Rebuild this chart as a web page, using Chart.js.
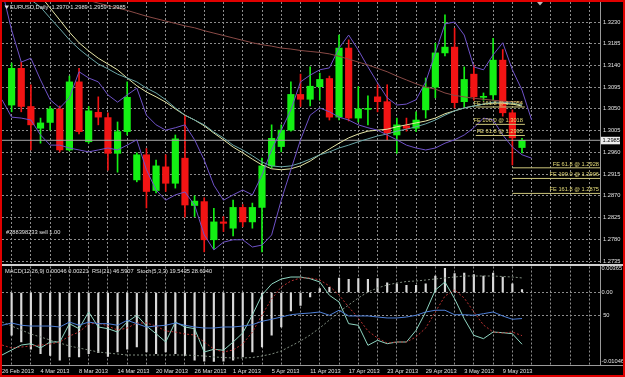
<!DOCTYPE html>
<html>
<head>
<meta charset="utf-8">
<title>EURUSD Daily</title>
<script src="https://cdn.jsdelivr.net/npm/chart.js@4/dist/chart.umd.min.js"></script>
<style>
  html, body { margin:0; padding:0; background:#000; }
  #frame { position:relative; width:625px; height:377px; box-sizing:border-box; border:2px solid #e00000; background:#000; overflow:hidden; }
  #mainBox { position:absolute; left:0; top:0; width:621px; height:261px; }
  #subBox { position:absolute; left:0; top:261px; width:621px; height:112px; }
  canvas { display:block; }
</style>
</head>
<body>
<div id="frame">
  <div id="mainBox"><canvas id="mainChart" width="621" height="261"></canvas></div>
  <div id="subBox"><canvas id="subChart" width="621" height="112"></canvas></div>
</div>
<script>
// ---------------- DATA ----------------
const symbol = 'EURUSD,Daily';
const dates = ['26 Feb 2013','27 Feb 2013','28 Feb 2013','1 Mar 2013','4 Mar 2013','5 Mar 2013','6 Mar 2013','7 Mar 2013','8 Mar 2013','11 Mar 2013','12 Mar 2013','13 Mar 2013','14 Mar 2013','15 Mar 2013','18 Mar 2013','19 Mar 2013','20 Mar 2013','21 Mar 2013','22 Mar 2013','25 Mar 2013','26 Mar 2013','27 Mar 2013','28 Mar 2013','29 Mar 2013','1 Apr 2013','2 Apr 2013','3 Apr 2013','4 Apr 2013','5 Apr 2013','8 Apr 2013','9 Apr 2013','10 Apr 2013','11 Apr 2013','12 Apr 2013','15 Apr 2013','16 Apr 2013','17 Apr 2013','18 Apr 2013','19 Apr 2013','22 Apr 2013','23 Apr 2013','24 Apr 2013','25 Apr 2013','26 Apr 2013','29 Apr 2013','30 Apr 2013','1 May 2013','2 May 2013','3 May 2013','6 May 2013','7 May 2013','8 May 2013','9 May 2013','10 May 2013','13 May 2013'];

const open  = [null,1.3058,1.3134,1.3055,1.3010,1.3022,1.3050,1.2965,1.3106,1.2982,1.3043,1.3032,1.2958,1.3003,1.2903,1.2955,1.2881,1.2930,1.2896,1.2948,1.2850,1.2858,1.2779,1.2816,1.2803,1.2846,1.2816,1.2846,1.2932,1.2972,1.3006,1.3080,1.3070,1.3096,1.3113,1.3033,1.3176,1.3031,1.3049,1.3075,1.3065,1.2996,1.3015,1.3010,1.3048,1.3095,1.3166,1.3178,1.3065,1.3122,1.3074,1.3079,1.3151,1.3042,1.2970];
const high  = [null,1.3145,1.3147,1.3100,1.3031,1.3055,1.3056,1.3118,1.3134,1.3055,1.3075,1.3042,1.3023,1.3106,1.2959,1.2968,1.2944,1.2955,1.2996,1.3037,1.2870,1.2866,1.2844,1.2827,1.2861,1.2852,1.2855,1.2948,1.3017,1.3017,1.3106,1.3122,1.3137,1.3124,1.3118,1.3203,1.3193,1.3096,1.3077,1.3100,1.3100,1.3031,1.3031,1.3044,1.3114,1.3186,1.3245,1.3217,1.3137,1.3141,1.3083,1.3196,1.3173,1.3048,1.2989];
const low   = [null,1.3044,1.3044,1.2965,1.2979,1.3006,1.2961,1.2963,1.2998,1.2979,1.3017,1.2923,1.2919,1.2996,1.2899,1.2845,1.2876,1.2879,1.2886,1.2826,1.2827,1.2754,1.2760,1.2796,1.2787,1.2806,1.2803,1.2754,1.2928,1.2961,1.3004,1.3055,1.3056,1.3068,1.3027,1.3027,1.3025,1.3023,1.3017,1.3044,1.2986,1.2958,1.3004,1.3003,1.3031,1.3073,1.3160,1.3052,1.3054,1.3068,1.3068,1.3068,1.3035,1.2934,1.2959];
const close = [null,1.3134,1.3055,1.3017,1.3021,1.3050,1.2965,1.3106,1.3003,1.3046,1.3033,1.2958,1.3003,1.3074,1.2955,1.2879,1.2932,1.2896,1.2988,1.2851,1.2859,1.2779,1.2816,1.2813,1.2846,1.2816,1.2846,1.2932,1.2989,1.3006,1.3080,1.3070,1.3097,1.3111,1.3033,1.3176,1.3031,1.3050,1.3050,1.3065,1.3000,1.3017,1.3010,1.3027,1.3095,1.3166,1.3178,1.3063,1.3111,1.3075,1.3075,1.3151,1.3042,1.2990,1.2985];

const maYellow = [1.3375,1.3350,1.3325,1.3303,1.3284,1.3259,1.3234,1.3209,1.3187,1.3170,1.3155,1.3143,1.3131,1.3114,1.3098,1.3085,1.3075,1.3064,1.3050,1.3037,1.3027,1.3015,1.3000,1.2986,1.2971,1.2959,1.2946,1.2934,1.2926,1.2924,1.2926,1.2932,1.2942,1.2955,1.2967,1.2979,1.2990,1.2998,1.3004,1.3006,1.3008,1.3013,1.3017,1.3021,1.3025,1.3031,1.3040,1.3046,1.3052,1.3056,1.3060,1.3062,1.3062,1.3060,1.3056];
const maTeal   = [1.3317,1.3305,1.3290,1.3276,1.3261,1.3238,1.3216,1.3193,1.3174,1.3158,1.3143,1.3133,1.3122,1.3114,1.3106,1.3093,1.3083,1.3069,1.3052,1.3037,1.3027,1.3017,1.3002,1.2990,1.2975,1.2965,1.2953,1.2940,1.2932,1.2930,1.2932,1.2938,1.2946,1.2955,1.2961,1.2969,1.2975,1.2982,1.2988,1.2994,1.2998,1.3004,1.3008,1.3013,1.3019,1.3027,1.3037,1.3046,1.3052,1.3056,1.3060,1.3064,1.3064,1.3062,1.3058];
const maBrown  = [1.3325,1.3319,1.3314,1.3309,1.3303,1.3297,1.3292,1.3286,1.3281,1.3275,1.3269,1.3264,1.3259,1.3254,1.3248,1.3242,1.3237,1.3232,1.3227,1.3222,1.3218,1.3212,1.3207,1.3202,1.3197,1.3192,1.3187,1.3183,1.3180,1.3176,1.3174,1.3171,1.3169,1.3167,1.3164,1.3159,1.3153,1.3147,1.3141,1.3134,1.3127,1.3118,1.3110,1.3102,1.3095,1.3091,1.3083,1.3078,1.3075,1.3072,1.3070,1.3068,1.3066,1.3065,1.3064];
const bandUpper = [1.3296,1.3213,1.3147,1.3155,1.3110,1.3069,1.3052,1.3073,1.3127,1.3114,1.3106,1.3079,1.3064,1.3079,1.3093,1.3037,1.3017,1.3006,1.3011,1.3017,1.2986,1.2944,1.2892,1.2861,1.2872,1.2882,1.2872,1.2913,1.2965,1.3006,1.3048,1.3106,1.3120,1.3131,1.3135,1.3176,1.3203,1.3172,1.3137,1.3104,1.3073,1.3058,1.3060,1.3069,1.3106,1.3166,1.3226,1.3230,1.3203,1.3137,1.3131,1.3162,1.3187,1.3131,1.3089,1.3027];
const bandLower = [1.3069,1.3033,1.3031,1.3027,1.2996,1.2975,1.2975,1.2969,1.2965,1.2961,1.2965,1.2969,1.2965,1.2975,1.2986,1.2924,1.2882,1.2861,1.2872,1.2878,1.2851,1.2789,1.2758,1.2774,1.2779,1.2779,1.2764,1.2768,1.2789,1.2861,1.2924,1.2986,1.3037,1.3052,1.3044,1.3033,1.3027,1.3017,1.3011,1.3006,1.2996,1.2986,1.2975,1.2969,1.2965,1.2969,1.2979,1.2986,1.2996,1.3011,1.3031,1.3027,1.2996,1.2971,1.2955,1.2948];

const macdMain   = [null,-0.00648,-0.0075,-0.0086,-0.00927,-0.00952,-0.01027,-0.00977,-0.00977,-0.00927,-0.00912,-0.00967,-0.00902,-0.0086,-0.00826,-0.00902,-0.00927,-0.00902,-0.00927,-0.00952,-0.01027,-0.0104,-0.01046,-0.01042,-0.01027,-0.00977,-0.00902,-0.00826,-0.00648,-0.00523,-0.0028,-0.00194,-0.00068,0.00058,0.00079,0.0022,0.002,0.00209,0.002,0.00209,0.00148,0.00133,0.00109,0.00109,0.00133,0.0025,0.00365,0.00288,0.00295,0.0027,0.0025,0.00295,0.00235,0.00133,0.00046];
const macdSignal = [-0.00447,-0.00508,-0.00568,-0.00629,-0.00674,-0.0072,-0.00765,-0.00811,-0.00841,-0.00871,-0.00902,-0.00917,-0.00932,-0.00947,-0.00947,-0.00947,-0.00947,-0.00947,-0.00947,-0.00947,-0.00955,-0.00962,-0.00977,-0.00985,-0.00992,-0.00992,-0.00985,-0.00962,-0.00932,-0.00886,-0.00811,-0.00735,-0.00644,-0.00538,-0.00417,-0.00295,-0.00189,-0.00083,0.00008,0.00068,0.00114,0.00144,0.00167,0.00174,0.00189,0.00205,0.0022,0.00235,0.0025,0.0025,0.0025,0.0025,0.00242,0.00235,0.00221];
const rsi        = [39.5,41.9,39.5,38.7,38.7,38.7,37.7,42.9,39.5,42.9,41.2,41.2,39.5,44.7,41.2,37.7,38.7,39.5,41.9,39.5,37.7,36.6,36.6,37.7,37.7,38.7,40.1,43.7,45.8,48.2,50.6,51.7,52.4,53.5,50.0,55.3,49.3,49.3,49.3,48.2,47.2,47.2,48.2,50.0,53.5,55.3,55.3,50.6,50.6,50.0,51.7,53.5,49.3,45.8,46.5907];
const stochMain  = [8.2,13.5,18.7,20.1,15.6,21.9,21.9,41.2,35.9,53.5,37.7,35.9,32.4,42.9,50.0,38.7,30.6,21.9,42.9,37.7,35.9,11.4,14.2,13.2,21.9,31.4,50.3,71.4,82.9,88.2,90.3,90.3,88.5,85.1,71.1,64.0,41.2,39.5,18.4,23.7,20.1,21.9,21.9,34.2,53.5,76.6,85.1,67.5,46.4,28.9,25.4,32.4,31.7,30.6,19.5435];
const stochSignal= [18.7,15.6,16.6,17.7,18.7,19.8,21.9,28.2,32.4,40.8,41.9,38.7,34.5,36.6,41.9,41.9,38.7,33.5,32.4,30.3,29.3,21.9,14.5,11.4,13.5,19.8,32.4,50.3,67.2,79.8,86.1,89.3,89.3,87.2,80.8,71.4,58.7,47.2,33.5,26.1,20.8,21.9,21.9,27.2,36.6,53.5,70.3,76.6,68.2,53.5,39.8,32.4,31.3,32.4,28.604];

const priceTicks = [1.2735,1.2780,1.2825,1.2870,1.2915,1.2960,1.3005,1.3050,1.3095,1.3140,1.3185,1.3230];
const macdTicks = [-0.01046, 0, 0.00365];
const oscTicks = [50];
const feLevels = ['61.8','100.0','161.8'];
const feUpper = [1.2995, 1.3018, 1.3054];
const feLower = [1.2928, 1.2906, 1.2875];
const orderLabel = '#288398233 sell 1.00';

// ---------------- STYLE / GEOMETRY ----------------
const FONT = "'Liberation Sans', Arial, sans-serif";
const FS = 5.7;
const TXT = '#e2e2e2';
const GRID = '#8c8c8c';
const UP = '#14f014', DOWN = '#f21414';
const FE_LINE = '#cdc57a', FE_TEXT = '#e6dc78';
const X_MIN = 0, X_MAX = 62.1;
const Y_MIN = 1.273089, Y_MAX = 1.327142;
const M_MIN = -0.010909, M_MAX = 0.003939;
const O_MIN = -1.79, O_MAX = 101.37;
const FE_UP_X0 = 49.2, FE_UP_X1 = 54.3, FE_LO_X0 = 53.0;
const AXIS_W = 23;

Chart.defaults.font.family = FONT;
const L = dates.length - 1;
const bid = close[L];
const evenTicks = []; for (let v = 0; v <= 62; v += 2) evenTicks.push(v);
const pts = arr => arr.map((v, i) => v == null ? null : {x: i, y: v}).filter(p => p);
const setTicks = vals => s => { s.ticks = vals.map(v => ({value: v})); };
const noPad = s => { s.paddingTop = 0; s.paddingBottom = 0; s.paddingLeft = 0; s.paddingRight = 0; };
const lineDs = (data, color, extra) => Object.assign({type:'line', data, borderColor:color, borderWidth:1, pointRadius:0, tension:0, fill:false, order:1}, extra || {});

const title = `${symbol}  ${open[L].toFixed(4)} ${high[L].toFixed(4)} ${low[L].toFixed(4)} ${close[L].toFixed(4)}`;
const indicatorLabel = `MACD(12,26,9) ${macdMain[L].toFixed(5)} ${macdSignal[L].toFixed(5)}  RSI(21) ${rsi[L].toFixed(4)}  Stoch(5,3,3) ${stochMain[L].toFixed(4)} ${stochSignal[L].toFixed(4)}`;

const candleIdx = dates.map((d, i) => i).filter(i => open[i] != null);
const candleColors = candleIdx.map(i => close[i] >= open[i] ? UP : DOWN);

// ---------------- MAIN CHART ----------------
const mainDecor = {
  id: 'mainDecor',
  afterDatasetsDraw(chart) {
    const {ctx, scales: {x, y}} = chart;
    ctx.save();
    ctx.font = `${FS}px ${FONT}`;
    ctx.fillStyle = FE_TEXT; ctx.textAlign = 'right'; ctx.textBaseline = 'bottom';
    feUpper.forEach((p, k) => ctx.fillText(`FE ${feLevels[k]} @ ${p.toFixed(4)}`, x.getPixelForValue(FE_UP_X1) - 2, y.getPixelForValue(p) - 1));
    feLower.forEach((p, k) => ctx.fillText(`FE ${feLevels[k]} @ ${p.toFixed(4)}`, x.getPixelForValue(X_MAX) - 1, y.getPixelForValue(p) - 1));
    ctx.textAlign = 'left'; ctx.textBaseline = 'middle'; ctx.fillStyle = TXT;
    ctx.fillText(title, 8, 5.5);
    ctx.beginPath(); ctx.moveTo(2.5, 3.5); ctx.lineTo(7, 3.5); ctx.lineTo(4.75, 7); ctx.closePath(); ctx.fill();
    ctx.fillText(orderLabel, 4, 230.5);
    const by = y.getPixelForValue(bid);
    ctx.fillStyle = '#ececec'; ctx.fillRect(x.right + 1, by - 3.5, 19, 7.5);
    ctx.fillStyle = '#000'; ctx.fillText(bid.toFixed(4), x.right + 2.5, by + 0.3);
    ctx.fillStyle = '#b8b8b8'; ctx.beginPath(); ctx.moveTo(535, 0); ctx.lineTo(541, 0); ctx.lineTo(538, 3.5); ctx.closePath(); ctx.fill();
    ctx.restore();
  }
};

new Chart(document.getElementById('mainChart'), {
  type: 'bar',
  data: {
    datasets: [
      {type:'bar', data: candleIdx.map(i => ({x:i, y:[low[i], high[i]]})), backgroundColor: candleColors, barThickness:1, grouped:false, order:4},
      {type:'bar', data: candleIdx.map(i => ({x:i, y:[open[i], close[i]]})), backgroundColor: candleColors, barThickness:6.5, minBarLength:1, grouped:false, order:3},
      lineDs(pts(maBrown), '#8a4a46'),
      lineDs(pts(bandUpper), '#6f52c8'),
      lineDs(pts(bandLower), '#6f52c8'),
      lineDs(pts(maTeal), '#6aa6a6'),
      lineDs(pts(maYellow), '#e6e6a6'),
      lineDs([{x:X_MIN, y:bid}, {x:X_MAX, y:bid}], '#a6a6a6', {order:2}),
      ...feUpper.map(p => lineDs([{x:FE_UP_X0, y:p}, {x:FE_UP_X1, y:p}], FE_LINE, {order:0})),
      ...feLower.map(p => lineDs([{x:FE_LO_X0, y:p}, {x:X_MAX, y:p}], FE_LINE, {order:0}))
    ]
  },
  options: {
    responsive:false, devicePixelRatio:1, animation:false, events:[],
    layout:{padding:0, autoPadding:false},
    plugins:{legend:{display:false}, tooltip:{enabled:false}},
    scales:{
      x:{type:'linear', min:X_MIN, max:X_MAX, bounds:'data', offset:false,
         afterBuildTicks:setTicks(evenTicks), afterFit:noPad,
         ticks:{display:false}, grid:{color:GRID, drawTicks:false}, border:{display:false, dash:[2,2]}},
      y:{type:'linear', position:'right', min:Y_MIN, max:Y_MAX, bounds:'data',
         afterBuildTicks:setTicks(priceTicks), afterFit: s => { s.width = AXIS_W; noPad(s); },
         ticks:{color:TXT, font:{size:FS}, padding:3, autoSkip:false, callback: v => v.toFixed(4)},
         grid:{color:GRID, drawTicks:false}, border:{display:true, color:'#9a9a9a', dash:[2,2]}}
    }
  },
  plugins:[mainDecor]
});

// ---------------- SUB WINDOW ----------------
const subDecor = {
  id: 'subDecor',
  afterDraw(chart) {
    const {ctx, chartArea} = chart;
    ctx.save();
    ctx.fillStyle = '#cfcfcf'; ctx.fillRect(0, 1, chart.width, 2);
    ctx.fillStyle = '#9a9a9a'; ctx.fillRect(0, Math.round(chartArea.bottom), chart.width, 1);
    ctx.font = `${FS}px ${FONT}`; ctx.fillStyle = TXT; ctx.textAlign = 'left'; ctx.textBaseline = 'middle';
    ctx.fillText(indicatorLabel, 3, 8);
    ctx.restore();
  }
};

new Chart(document.getElementById('subChart'), {
  type: 'bar',
  data: {
    datasets: [
      {type:'bar', yAxisID:'yM', data: pts(macdMain), backgroundColor:'#dadada', barThickness:1.5, grouped:false, order:4},
      lineDs(pts(macdSignal), '#7f8c7f', {yAxisID:'yM', borderDash:[2,2], order:3}),
      lineDs(pts(rsi), '#4f80d8', {yAxisID:'yR'}),
      lineDs(pts(stochSignal), '#b83030', {yAxisID:'yR', borderDash:[2,2]}),
      lineDs(pts(stochMain), '#8fd6c2', {yAxisID:'yR'})
    ]
  },
  options: {
    responsive:false, devicePixelRatio:1, animation:false, events:[],
    layout:{padding:{top:3.5, left:0, right:0, bottom:0}, autoPadding:false},
    plugins:{legend:{display:false}, tooltip:{enabled:false}},
    scales:{
      x:{type:'linear', position:'bottom', min:X_MIN, max:X_MAX, bounds:'data', offset:false,
         afterBuildTicks:setTicks(evenTicks), afterFit: s => { s.height = 10.5; noPad(s); },
         ticks:{color:TXT, font:{size:FS}, padding:4, align:'start', maxRotation:0, minRotation:0, autoSkip:false,
                callback: v => (v % 4 === 0 && v < dates.length) ? dates[v] : ''},
         grid:{color:GRID, drawTicks:false}, border:{display:false, dash:[2,2]}},
      yR:{type:'linear', position:'right', weight:0, min:O_MIN, max:O_MAX, bounds:'data',
          afterBuildTicks:setTicks(oscTicks), afterFit: s => { s.width = 0; noPad(s); },
          ticks:{color:TXT, font:{size:FS}, mirror:true, padding:9.5, autoSkip:false, callback: v => String(v)},
          grid:{color:GRID, drawTicks:false}, border:{display:false, dash:[2,2]}},
      yM:{type:'linear', position:'right', weight:1, min:M_MIN, max:M_MAX, bounds:'data',
          afterBuildTicks:setTicks(macdTicks), afterFit: s => { s.width = AXIS_W; noPad(s); },
          ticks:{color:TXT, font:{size:FS}, padding:1.5, autoSkip:false, callback: v => v === 0 ? '0.00' : String(v)},
          grid:{color: c => (c.tick && c.tick.value === 0) ? GRID : 'rgba(0,0,0,0)', drawTicks:false},
          border:{display:true, color:'#9a9a9a', dash:[2,2]}}
    }
  },
  plugins:[subDecor]
});
</script>
</body>
</html>
